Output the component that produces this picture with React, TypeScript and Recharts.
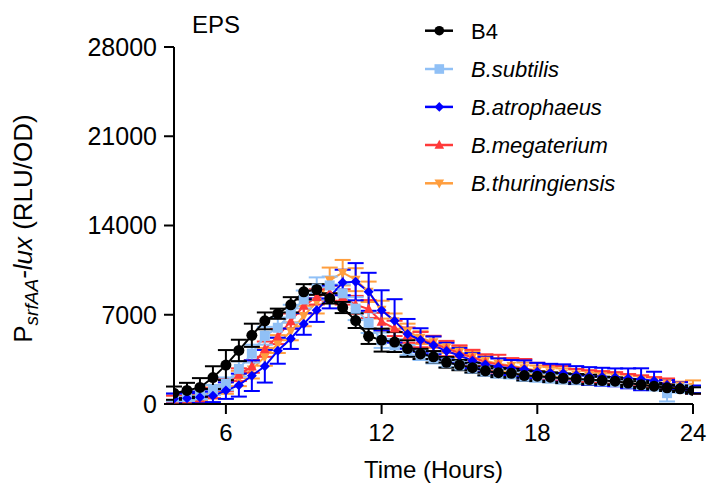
import React from 'react';
import { LineChart, Line, XAxis, YAxis, ErrorBar, Label, Legend } from 'recharts';

const hours = [4, 4.5, 5, 5.5, 6, 6.5, 7, 7.5, 8, 8.5, 9, 9.5, 10, 10.5, 11, 11.5, 12, 12.5, 13, 13.5, 14, 14.5, 15, 15.5, 16, 16.5, 17, 17.5, 18, 18.5, 19, 19.5, 20, 20.5, 21, 21.5, 22, 22.5, 23, 23.5, 24];

const b4 = [850, 1060, 1300, 2070, 3050, 4200, 5390, 6520, 7080, 7780, 8800, 8980, 8280, 7570, 6540, 5310, 5010, 4860, 4350, 3930, 3700, 3270, 3050, 2850, 2600, 2460, 2410, 2230, 2180, 2100, 2020, 1970, 1920, 1840, 1790, 1640, 1510, 1400, 1270, 1190, 1060];
const b4Err = [520, 600, 730, 890, 1180, 840, 910, 660, 400, 600, 600, 420, 400, 440, 580, 600, 900, 780, 650, 400, 450, 420, 400, 380, 350, 350, 350, 380, 380, 380, 380, 380, 380, 300, 300, 300, 280, 250, 250, 250, 250];

const subtilis = [520, 540, 680, 1100, 1580, 2750, 3950, 5350, 5980, 7080, 8200, 9050, 9300, 8680, 7480, 6370, 5000, 4600, 4230, 3850, 3580, 3240, 3020, 2800, 2560, 2420, 2350, 2170, 2100, 2030, 1960, 1900, 1850, 1780, 1720, 1600, 1480, 1380, 850, 1200, 1100];
const subtilisErr = [300, 300, 300, 400, 500, 600, 700, 700, 800, 700, 700, 880, 700, 700, 900, 800, 600, 500, 400, 400, 400, 350, 350, 350, 350, 350, 350, 350, 350, 350, 350, 350, 350, 350, 300, 300, 300, 300, 650, 300, 250];

const atrophaeus = [420, 460, 520, 650, 1050, 1480, 2220, 2960, 4180, 5120, 6280, 7360, 8400, 9530, 9590, 8800, 7350, 6520, 5500, 5020, 4600, 4150, 3800, 3400, 3100, 2920, 2800, 2720, 2530, 2450, 2410, 2270, 2190, 2140, 2090, 2010, 1940, 1830, 1490, 1360, 1150];
const atrophaeusErr = [400, 400, 450, 500, 650, 900, 1200, 1280, 1020, 800, 850, 920, 900, 1000, 1460, 1490, 1570, 1700, 1170, 920, 700, 650, 600, 600, 600, 650, 650, 700, 700, 700, 700, 700, 700, 700, 700, 780, 860, 700, 390, 350, 300];

const megaterium = [350, 380, 450, 850, 1500, 2300, 2950, 4300, 5300, 6500, 7700, 8400, 8700, 8400, 7780, 7450, 6450, 5930, 5400, 5050, 4750, 4350, 4000, 3650, 3300, 3100, 2950, 2750, 2580, 2450, 2380, 2250, 2150, 2080, 2000, 1900, 1800, 1700, 1600, 1380, 1100];
const megateriumErr = [300, 300, 300, 400, 500, 500, 500, 600, 600, 600, 600, 600, 600, 600, 700, 700, 700, 600, 600, 600, 600, 600, 600, 600, 600, 760, 650, 780, 650, 600, 600, 500, 500, 500, 500, 450, 450, 400, 400, 350, 300];

const thuringiensis = [500, 560, 600, 950, 1400, 2000, 2700, 3700, 4700, 5700, 6900, 8000, 9700, 10300, 9750, 8800, 7400, 6500, 5700, 5200, 4850, 4450, 4100, 3700, 3400, 3150, 3000, 2800, 2620, 2500, 2400, 2300, 2200, 2120, 2050, 1950, 1850, 1750, 1620, 1450, 1350];
const thuringiensisErr = [300, 300, 350, 500, 600, 600, 700, 700, 700, 700, 800, 900, 1000, 1000, 900, 800, 700, 600, 600, 500, 450, 450, 450, 450, 450, 450, 450, 450, 400, 400, 400, 400, 400, 350, 350, 350, 350, 350, 350, 300, 500];

const xTicks = [6, 12, 18, 24];
const yTicks = [0, 7000, 14000, 21000, 28000];

const data = hours.map((h, i) => ({
  h,
  b4: b4[i], b4e: b4Err[i],
  sub: subtilis[i], sube: subtilisErr[i],
  atr: atrophaeus[i], atre: atrophaeusErr[i],
  meg: megaterium[i], mege: megateriumErr[i],
  thu: thuringiensis[i], thue: thuringiensisErr[i],
}));

const FONT = '"Liberation Sans", Arial, Helvetica, sans-serif';

type Shape = 'circle' | 'square' | 'diamond' | 'up' | 'down';

function marker(shape: Shape, cx: number, cy: number, s: number, color: string, key?: string) {
  switch (shape) {
    case 'circle':
      return <circle key={key} cx={cx} cy={cy} r={s} fill={color} />;
    case 'square':
      return <rect key={key} x={cx - s} y={cy - s} width={2 * s} height={2 * s} fill={color} />;
    case 'diamond':
      return <polygon key={key} points={`${cx},${cy - s} ${cx + s},${cy} ${cx},${cy + s} ${cx - s},${cy}`} fill={color} />;
    case 'up':
      return <polygon key={key} points={`${cx},${cy - s * 1.1} ${cx + s},${cy + s * 0.8} ${cx - s},${cy + s * 0.8}`} fill={color} />;
    case 'down':
      return <polygon key={key} points={`${cx},${cy + s * 1.1} ${cx + s},${cy - s * 0.8} ${cx - s},${cy - s * 0.8}`} fill={color} />;
  }
}

const series: { key: string; err: string; name: string; color: string; shape: Shape; size: number; italic: boolean }[] = [
  { key: 'thu', err: 'thue', name: 'B.thuringiensis', color: '#FF9E3E', shape: 'down', size: 5, italic: true },
  { key: 'meg', err: 'mege', name: 'B.megaterium', color: '#FF3A3A', shape: 'up', size: 5, italic: true },
  { key: 'sub', err: 'sube', name: 'B.subtilis', color: '#90C0F6', shape: 'square', size: 5, italic: true },
  { key: 'atr', err: 'atre', name: 'B.atrophaeus', color: '#0000FF', shape: 'diamond', size: 5, italic: true },
  { key: 'b4', err: 'b4e', name: 'B4', color: '#000000', shape: 'circle', size: 5.5, italic: false },
];

const legendOrder = ['b4', 'sub', 'atr', 'meg', 'thu'];

const YTitle = (props: any) => {
  const vb = props.viewBox || { x: 0, y: 47, width: 0, height: 357 };
  const cx = 32;
  const cy = vb.y + vb.height / 2 + 3;
  return (
    <text
      x={cx}
      y={cy}
      transform={`rotate(-90, ${cx}, ${cy})`}
      textAnchor="middle"
      fontFamily={FONT}
      fontSize={26}
      fill="#000"
    >
      <tspan>P</tspan>
      <tspan fontStyle="italic" fontSize={19} dy={6}>srfAA</tspan>
      <tspan fontStyle="italic" dy={-6}>-lux</tspan>
      <tspan> (RLU/OD)</tspan>
    </text>
  );
};

const XTitle = (props: any) => {
  const vb = props.viewBox || { x: 174, y: 404, width: 519, height: 60 };
  return (
    <text x={vb.x + vb.width / 2} y={478} textAnchor="middle" fontFamily={FONT} fontSize={24} fill="#000">
      Time (Hours)
    </text>
  );
};

const LegendBox = () => {
  const rowY = [30.7, 69, 106.9, 145, 183.3];
  return (
    <svg width={710} height={215} style={{ display: 'block' }}>
      <text x={192} y={33} fontFamily={FONT} fontSize={24} fill="#000">EPS</text>
      {legendOrder.map((k, i) => {
        const s = series.find((d) => d.key === k)!;
        const y = rowY[i];
        return (
          <g key={k}>
            <line x1={425} x2={453} y1={y} y2={y} stroke={s.color} strokeWidth={2.5} />
            {marker(s.shape, 439.3, y, 4.8, s.color)}
            <text x={471} y={y + 7.8} fontFamily={FONT} fontSize={22} fontStyle={s.italic ? 'italic' : 'normal'} fill="#000">
              {s.name}
            </text>
          </g>
        );
      })}
    </svg>
  );
};

export default function App() {
  return (
    <div style={{ position: 'absolute', left: 0, top: 0, width: 710, height: 489, background: '#fff' }}>
      <LineChart width={710} height={489} data={data} margin={{ top: 47, right: 17, bottom: 25, left: 114 }}>
        <XAxis
          dataKey="h"
          type="number"
          domain={[4, 24]}
          ticks={xTicks}
          height={60}
          tickSize={10}
          tickMargin={10}
          axisLine={{ stroke: '#000', strokeWidth: 2 }}
          tickLine={{ stroke: '#000', strokeWidth: 2 }}
          tick={{ fill: '#000', fontSize: 24, fontFamily: FONT }}
          allowDataOverflow
        >
          <Label content={XTitle} />
        </XAxis>
        <YAxis
          type="number"
          domain={[0, 28000]}
          ticks={yTicks}
          width={60}
          tickSize={10}
          tickMargin={7}
          axisLine={{ stroke: '#000', strokeWidth: 2 }}
          tickLine={{ stroke: '#000', strokeWidth: 2 }}
          tick={{ fill: '#000', fontSize: 25, fontFamily: FONT }}
          interval={0}
        >
          <Label content={YTitle} />
        </YAxis>
        {series.map((s) => (
          <Line
            key={s.key}
            dataKey={s.key}
            name={s.name}
            type="linear"
            stroke={s.color}
            strokeWidth={2}
            isAnimationActive={false}
            activeDot={false}
            dot={(p: any) => marker(s.shape, p.cx, p.cy, s.size, s.color, `${s.key}-${p.index}`) as any}
          >
            <ErrorBar dataKey={s.err} direction="y" width={8} strokeWidth={2} stroke={s.color} isAnimationActive={false} />
          </Line>
        ))}
        <Legend
          layout="vertical"
          align="center"
          verticalAlign="middle"
          content={LegendBox}
          wrapperStyle={{ left: 0, top: 0, width: 710, height: 215, pointerEvents: 'none' }}
        />
      </LineChart>
    </div>
  );
}
